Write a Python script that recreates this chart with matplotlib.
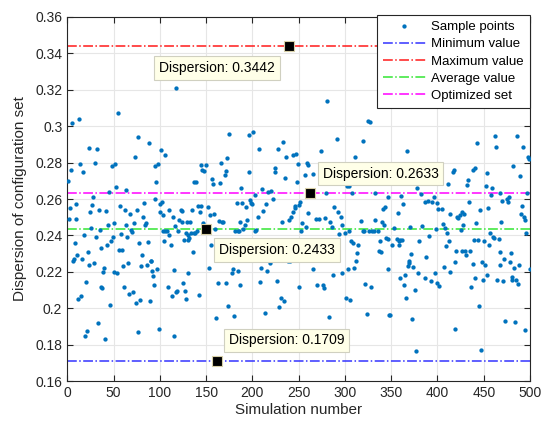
import matplotlib
matplotlib.use("Agg")
import matplotlib.pyplot as plt

plt.rcParams['font.family'] = ['Liberation Sans', 'DejaVu Sans']

# simulation number and dispersion of each sample
sim = [1, 2, 3, 4, 5, 6, 7, 8, 9, 10, 11, 12, 13, 14, 15, 16, 17, 18, 19, 20,
       21, 22, 23, 24, 25, 26, 27, 28, 29, 30, 31, 32, 33, 34, 35, 36, 37, 38, 39, 40,
       41, 42, 43, 44, 45, 46, 47, 48, 49, 50, 51, 52, 53, 54, 55, 56, 57, 58, 59, 60,
       61, 62, 63, 64, 65, 66, 67, 68, 69, 70, 71, 72, 73, 74, 75, 76, 77, 78, 79, 80,
       81, 82, 83, 84, 85, 86, 87, 88, 89, 90,
       91, 92, 93, 94, 95, 95, 96, 97, 98, 99, 100, 100, 101, 102, 104, 104, 105, 106, 106, 108,
       109, 110, 110, 112, 113, 114, 115, 115, 116, 117, 118, 119, 120, 121, 123, 124, 124, 125, 126, 127,
       128, 128, 130, 129, 130, 131, 132, 133, 134, 135, 136, 137, 137, 138, 139, 140, 141, 142, 143, 144,
       145, 146, 147, 148, 148, 150, 150, 152, 153, 154, 155, 156, 158, 159, 160, 161, 162, 163, 164, 165,
       166, 167, 168, 170, 171, 172, 173, 174, 175,
       178, 179, 180, 181, 183, 185, 184, 187, 186, 187, 188, 189, 190, 193, 192, 194, 196, 196, 197, 198,
       200, 201, 203, 203, 204, 205, 206, 207, 208, 209, 210, 211, 214, 215, 216, 217, 218, 219, 220, 222,
       224, 224, 226, 227, 228, 229, 231, 232, 233, 234, 235, 236, 238, 241, 240, 240, 242, 244, 244, 246,
       247, 246, 248, 249, 250, 250, 251, 253, 254, 257, 258, 259, 260,
       260, 262, 265, 266, 269, 270, 272, 274, 276, 277, 279, 280, 281, 284, 283, 286, 287, 288, 291, 292,
       294, 296, 297, 297, 300, 302, 301, 304, 303, 304, 305, 307, 308, 309, 310, 311, 312, 313, 314, 317,
       319, 320, 321, 322, 324, 325, 326, 327, 329, 328, 331, 332, 333, 336, 337, 338, 339, 340, 341, 342,
       343, 344, 346, 347, 348,
       347, 349, 351, 353, 356, 357, 358, 358, 359, 360, 361, 362, 363, 364, 365, 366, 367, 368, 369, 369,
       370, 371, 372, 374, 376, 377, 378, 379, 380, 382, 383, 386, 387, 388, 390, 391, 394, 393, 396, 397,
       398, 399, 400, 401, 402, 405, 406, 407, 408, 409, 410, 411, 412, 413, 414, 417, 418, 419, 419, 421,
       420, 422, 424, 425, 427, 427, 428, 429, 430, 431, 432, 433,
       434, 435, 436, 438, 438, 439, 440, 441, 442, 443, 444, 445, 446, 447, 448, 449, 450, 451, 452, 453,
       454, 455, 456, 457, 458, 459, 460, 461, 462, 463, 464, 466, 467, 468, 468, 469, 470, 471, 472, 473,
       475, 476, 477, 478, 479, 480, 481, 482, 483, 484, 485, 486, 487, 488, 489, 490, 491, 492, 493, 494,
       495, 496, 497, 498, 499, 500]

disp = [0.270, 0.249, 0.255, 0.276, 0.302, 0.226, 0.227, 0.236, 0.257, 0.249, 0.229, 0.205, 0.304, 0.279, 0.2065, 0.227, 0.275, 0.240, 0.185, 0.2145,
        0.1875, 0.231, 0.288, 0.224, 0.253, 0.244, 0.2565, 0.261, 0.225, 0.280, 0.239, 0.2875, 0.192, 0.254, 0.243, 0.2115, 0.233, 0.211, 0.220, 0.222,
        0.183, 0.2535, 0.2345, 0.246, 0.264, 0.202, 0.237, 0.278, 0.239, 0.247, 0.220, 0.279, 0.2665, 0.2195, 0.307, 0.232, 0.256, 0.241, 0.232, 0.223,
        0.2115, 0.254, 0.265, 0.246, 0.239, 0.225, 0.208, 0.252, 0.243, 0.242, 0.209, 0.247, 0.283, 0.203, 0.254, 0.187, 0.294, 0.236, 0.2045, 0.223,
        0.229, 0.250, 0.258, 0.246, 0.247, 0.224, 0.2365, 0.291, 0.204, 0.226,
        0.2257, 0.2203, 0.218, 0.2126, 0.278, 0.260, 0.2693, 0.2215, 0.2795, 0.1886, 0.2528, 0.2572, 0.2868, 0.2582, 0.2422, 0.2513, 0.2367, 0.284, 0.2422, 0.2422,
        0.2115, 0.2404, 0.2541, 0.235, 0.2066, 0.2499, 0.1846, 0.2211, 0.2453, 0.2088, 0.3212, 0.2093, 0.2422, 0.2486, 0.2541, 0.2535, 0.2473, 0.2139, 0.2376, 0.2093,
        0.2413, 0.2051, 0.2404, 0.2473, 0.2196, 0.2376, 0.2385, 0.2473, 0.2413, 0.2541, 0.2309, 0.2413, 0.2696, 0.2413, 0.2696, 0.2422, 0.2559, 0.2073, 0.2528, 0.2788,
        0.2559, 0.276, 0.247, 0.2755, 0.2422, 0.2788, 0.2433, 0.2556, 0.2222, 0.2513, 0.235, 0.2709, 0.2682, 0.2519, 0.2437, 0.1948, 0.1709, 0.2139, 0.2477, 0.2687,
        0.280, 0.2473, 0.2473, 0.2733, 0.2139, 0.2755, 0.2824, 0.2013, 0.2958,
        0.2192, 0.2214, 0.1959, 0.2427, 0.258, 0.2203, 0.2427, 0.213, 0.2427, 0.2473, 0.2663, 0.258, 0.2437, 0.2554, 0.2458, 0.2486, 0.2952, 0.2751, 0.2594, 0.258,
        0.2572, 0.297, 0.2427, 0.2622, 0.2431, 0.2294, 0.2502, 0.2875, 0.2142, 0.2222, 0.2654, 0.2535, 0.1976, 0.2572, 0.2203, 0.2636, 0.2276, 0.2248, 0.2645, 0.260,
        0.2769, 0.2746, 0.2267, 0.2151, 0.2875, 0.2007, 0.2057, 0.2473, 0.2915, 0.2038, 0.2715, 0.283, 0.2261, 0.2261, 0.2486, 0.3442, 0.2504, 0.2839, 0.2528, 0.2559,
        0.2846, 0.255, 0.2696, 0.2791, 0.2565, 0.2115, 0.2586, 0.2427, 0.247, 0.2733, 0.2444, 0.2797, 0.2522,
        0.2788, 0.2633, 0.274, 0.2214, 0.2491, 0.213, 0.2491, 0.2864, 0.2126, 0.2111, 0.2495, 0.2632, 0.3139, 0.2473, 0.1954, 0.2449, 0.2184, 0.2554, 0.2928, 0.2526,
        0.2407, 0.2504, 0.2194, 0.2458, 0.2413, 0.2669, 0.2056, 0.2669, 0.2215, 0.2427, 0.2047, 0.2371, 0.2632, 0.2358, 0.2222, 0.2829, 0.2257, 0.2303, 0.2345, 0.248,
        0.2422, 0.2921, 0.2422, 0.2133, 0.1971, 0.3031, 0.2427, 0.3022, 0.2422, 0.2117, 0.2427, 0.2632, 0.2486, 0.2427, 0.2313, 0.2371, 0.2309, 0.2473, 0.2546, 0.2458,
        0.2556, 0.2385, 0.238, 0.2214, 0.1962,
        0.2613, 0.1965, 0.2345, 0.244, 0.238, 0.2522, 0.2371, 0.2345, 0.2376, 0.2164, 0.2617, 0.2376, 0.2574, 0.213, 0.2181, 0.2056, 0.2866, 0.223, 0.2248, 0.2257,
        0.2449, 0.2298, 0.1943, 0.2225, 0.2102, 0.1764, 0.2663, 0.2194, 0.2367, 0.2627, 0.2453, 0.2164, 0.2582, 0.2279, 0.2587, 0.2398, 0.2582, 0.2149, 0.2613, 0.2194,
        0.2437, 0.2139, 0.2576, 0.2544, 0.212, 0.2544, 0.2462, 0.2225, 0.244, 0.2343, 0.2413, 0.268, 0.2367, 0.2519, 0.2199, 0.2747, 0.2758, 0.1886, 0.2253, 0.2504,
        0.2313, 0.2495, 0.2513, 0.2431, 0.2526, 0.2316, 0.2458, 0.2519, 0.2313, 0.229, 0.2678, 0.2705,
        0.2582, 0.2316, 0.2115, 0.276, 0.2243, 0.2376, 0.2773, 0.2168, 0.2468, 0.2906, 0.2376, 0.2011, 0.2537, 0.177, 0.2254, 0.2155, 0.2371, 0.2239, 0.2674, 0.2742,
        0.2184, 0.255, 0.2349, 0.2413, 0.2623, 0.266, 0.2389, 0.2385, 0.2946, 0.2886, 0.2157, 0.238, 0.2239, 0.2309, 0.2632, 0.2473, 0.2589, 0.2151, 0.2272, 0.1932,
        0.260, 0.2586, 0.2613, 0.2254, 0.2303, 0.2157, 0.217, 0.2784, 0.2222, 0.1925, 0.2157, 0.2946, 0.2135, 0.2239, 0.2727, 0.2517, 0.2559, 0.2883, 0.2499, 0.2486,
        0.1879, 0.2413, 0.2632, 0.2833, 0.2818, 0.2215]

# reference levels and the samples that were picked out
min_val, max_val, avg_val, opt_val = 0.1709, 0.3442, 0.2433, 0.2633
tips_x = [240, 262, 150, 162]
tips_y = [0.3442, 0.2633, 0.2433, 0.1709]
tip_offsets = [(-52, -16), (51, 14), (51, -15), (50, 15)]

fig = plt.figure(figsize=(5.51, 4.23), dpi=100)
ax = fig.add_axes([0.122, 0.099, 0.840, 0.861])

ax.plot(sim, disp, 'o', color='#0072BD', markersize=3.1, markeredgewidth=0,
        label='Sample points', zorder=3)
ax.axhline(min_val, color='#3333FF', linestyle='-.', linewidth=1.1, label='Minimum value', zorder=2)
ax.axhline(max_val, color='#FF1A1A', linestyle='-.', linewidth=1.1, label='Maximum value', zorder=2)
ax.axhline(avg_val, color='#33E633', linestyle='-.', linewidth=1.1, label='Average value', zorder=2)
ax.axhline(opt_val, color='#FF00FF', linestyle='-.', linewidth=1.1, label='Optimized set', zorder=2)

# data tips
ax.plot(tips_x, tips_y, 's', color='black', markersize=7,
        markeredgecolor='#D8D0A8', markeredgewidth=0.8, zorder=5)
for tx, ty, off in zip(tips_x, tips_y, tip_offsets):
    ax.annotate('Dispersion: %.4f' % ty, xy=(tx, ty), xytext=off,
                textcoords='offset points', ha='center', va='center', fontsize=10,
                bbox=dict(boxstyle='square,pad=0.35', fc='#FFFFE8', ec='#D0D0C0', lw=0.8),
                zorder=6)

ax.set_xlim(0, 500)
ax.set_ylim(0.16, 0.36)
ax.set_xticks(range(0, 501, 50))
ax.set_yticks([0.16, 0.18, 0.2, 0.22, 0.24, 0.26, 0.28, 0.3, 0.32, 0.34, 0.36])
ax.set_yticklabels(['0.16', '0.18', '0.2', '0.22', '0.24', '0.26', '0.28', '0.3', '0.32', '0.34', '0.36'])
ax.tick_params(direction='in', top=True, right=True, length=4, width=0.8,
               labelsize=10, colors='#262626')
ax.grid(True, color='#E6E6E6', linewidth=0.8)
ax.set_axisbelow(True)
for s in ax.spines.values():
    s.set_color('#262626')
    s.set_linewidth(0.8)

ax.set_xlabel('Simulation number', fontsize=11, color='#262626', labelpad=2)
ax.set_ylabel('Dispersion of configuration set', fontsize=11, color='#262626', labelpad=6)

leg = ax.legend(loc='upper right', bbox_to_anchor=(1, 1.005), borderaxespad=0,
                fontsize=9.5, handlelength=3.3, fancybox=False, framealpha=1,
                edgecolor='#262626', labelspacing=0.37, handletextpad=0.4,
                borderpad=0.45)
leg.get_frame().set_linewidth(0.8)
leg.set_zorder(7)

fig.savefig('out.png', dpi=100)
